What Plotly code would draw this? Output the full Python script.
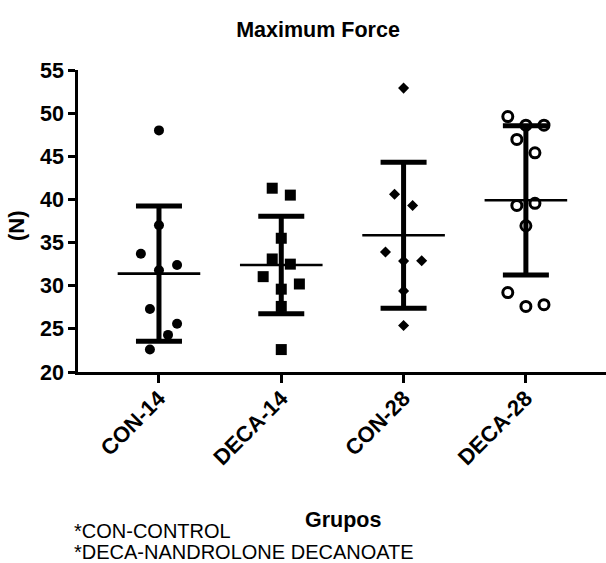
import plotly.graph_objects as go

# ---------------- data ----------------
groups = ["CON-14", "DECA-14", "CON-28", "DECA-28"]

con14 = [48.0, 37.0, 33.7, 32.4, 31.8, 27.3, 25.6, 24.3, 22.6]
deca14 = [41.3, 40.5, 35.5, 33.1, 32.5, 31.05, 30.2, 29.6, 27.6, 22.6]
con28 = [52.9, 40.6, 39.3, 33.9, 32.9, 32.85, 29.4, 25.4]
deca28 = [49.6, 48.6, 48.6, 46.95, 45.4, 39.3, 39.55, 36.95, 29.2, 27.6, 27.8]

# jitter slot of each point (column-scatter layout)
con14_slot = [0, 0, -2, 2, 0, -1, 2, 1, -1]
deca14_slot = [-1, 1, 0, -1, 1, -2, 2, 0, 0, 0]
con28_slot = [0, -1, 1, -2, 2, 0, 0, 0]
deca28_slot = [-2, 0, 2, -1, 1, -1, 1, 0, -2, 0, 2]

means = [31.4, 32.4, 35.85, 39.9]
sds = [7.85, 5.65, 8.45, 8.65]

y_ticks = [20, 25, 30, 35, 40, 45, 50, 55]

title_text = "Maximum Force"
x_title = "Grupos"
y_title = "(N)"
notes = ["*CON-CONTROL", "*DECA-NANDROLONE DECANOATE"]

# ---------------- style ----------------
JITTER_STEP = 0.074
FONT = "Liberation Sans, Arial, sans-serif"
W, H = 606, 563
L, R, T, B = 78, 0, 70, 191

series = [
    (con14, con14_slot, dict(symbol="circle", size=10, color="black")),
    (deca14, deca14_slot, dict(symbol="square", size=11, color="black")),
    (con28, con28_slot, dict(symbol="diamond", size=8.5, color="black")),
    (deca28, deca28_slot, dict(symbol="circle-open", size=10, color="black",
                               line=dict(width=3, color="black"))),
]

fig = go.Figure()
for i, (vals, slots, mk) in enumerate(series):
    xs = [i + s * JITTER_STEP for s in slots]
    fig.add_trace(go.Scatter(x=xs, y=vals, mode="markers", marker=mk,
                             showlegend=False, hoverinfo="y"))

# mean line + SD error bars
fig.add_trace(go.Scatter(
    x=list(range(len(groups))), y=means, mode="markers",
    marker=dict(symbol="line-ew", size=59, line=dict(width=2.6, color="black"),
                color="black"),
    error_y=dict(type="data", array=sds, visible=True, thickness=5,
                 width=23, color="black"),
    showlegend=False, hoverinfo="y"))

fig.update_layout(
    width=W, height=H,
    margin=dict(l=L, r=R, t=T, b=B, autoexpand=False),
    paper_bgcolor="white", plot_bgcolor="white",
    font=dict(family=FONT, color="black"),
    title=dict(text=title_text, x=318 / W, xref="container", xanchor="center",
               y=1 - 29 / H, yref="container", yanchor="middle",
               font=dict(size=21.5, family=FONT, weight="bold", color="black")),
)

fig.update_xaxes(
    range=[-0.662, 3.655],
    tickmode="array", tickvals=list(range(len(groups))), ticktext=groups,
    tickangle=-45, tickfont=dict(size=22, family=FONT, weight="bold"),
    ticklabelstandoff=-6,
    ticks="outside", ticklen=8, tickwidth=2.5, tickcolor="black",
    showline=True, linewidth=2.5, linecolor="black",
    showgrid=False, zeroline=False, automargin=False,
)
fig.update_yaxes(
    range=[20, 55],
    tickmode="array", tickvals=y_ticks,
    tickfont=dict(size=21.5, family=FONT, weight="bold"),
    ticks="outside", ticklen=7, tickwidth=2.5, tickcolor="black",
    showline=True, linewidth=2.5, linecolor="black",
    showgrid=False, zeroline=False, automargin=False,
)

plot_w = W - L - R
plot_h = H - T - B

def px(x):
    return (x - L) / plot_w

def py(y):
    return (H - B - y) / plot_h

fig.add_annotation(text=x_title, x=px(343), y=py(520), xref="paper", yref="paper",
                   showarrow=False, xanchor="center", yanchor="middle",
                   font=dict(size=21.5, family=FONT, weight="bold"))
fig.add_annotation(text=y_title, x=px(16), y=py(226), xref="paper", yref="paper",
                   showarrow=False, xanchor="center", yanchor="middle", textangle=-90,
                   font=dict(size=22, family=FONT, weight="bold"))
for k, (txt, yc) in enumerate(zip(notes, [531, 552])):
    fig.add_annotation(text=txt, x=px(72), y=py(yc), xref="paper", yref="paper",
                       showarrow=False, xanchor="left", yanchor="middle",
                       font=dict(size=20, family=FONT))

fig.write_html("out.html",
               config={"displayModeBar": False},
               post_script="document.body.style.margin='0';"
                           "document.documentElement.style.overflow='hidden';")
